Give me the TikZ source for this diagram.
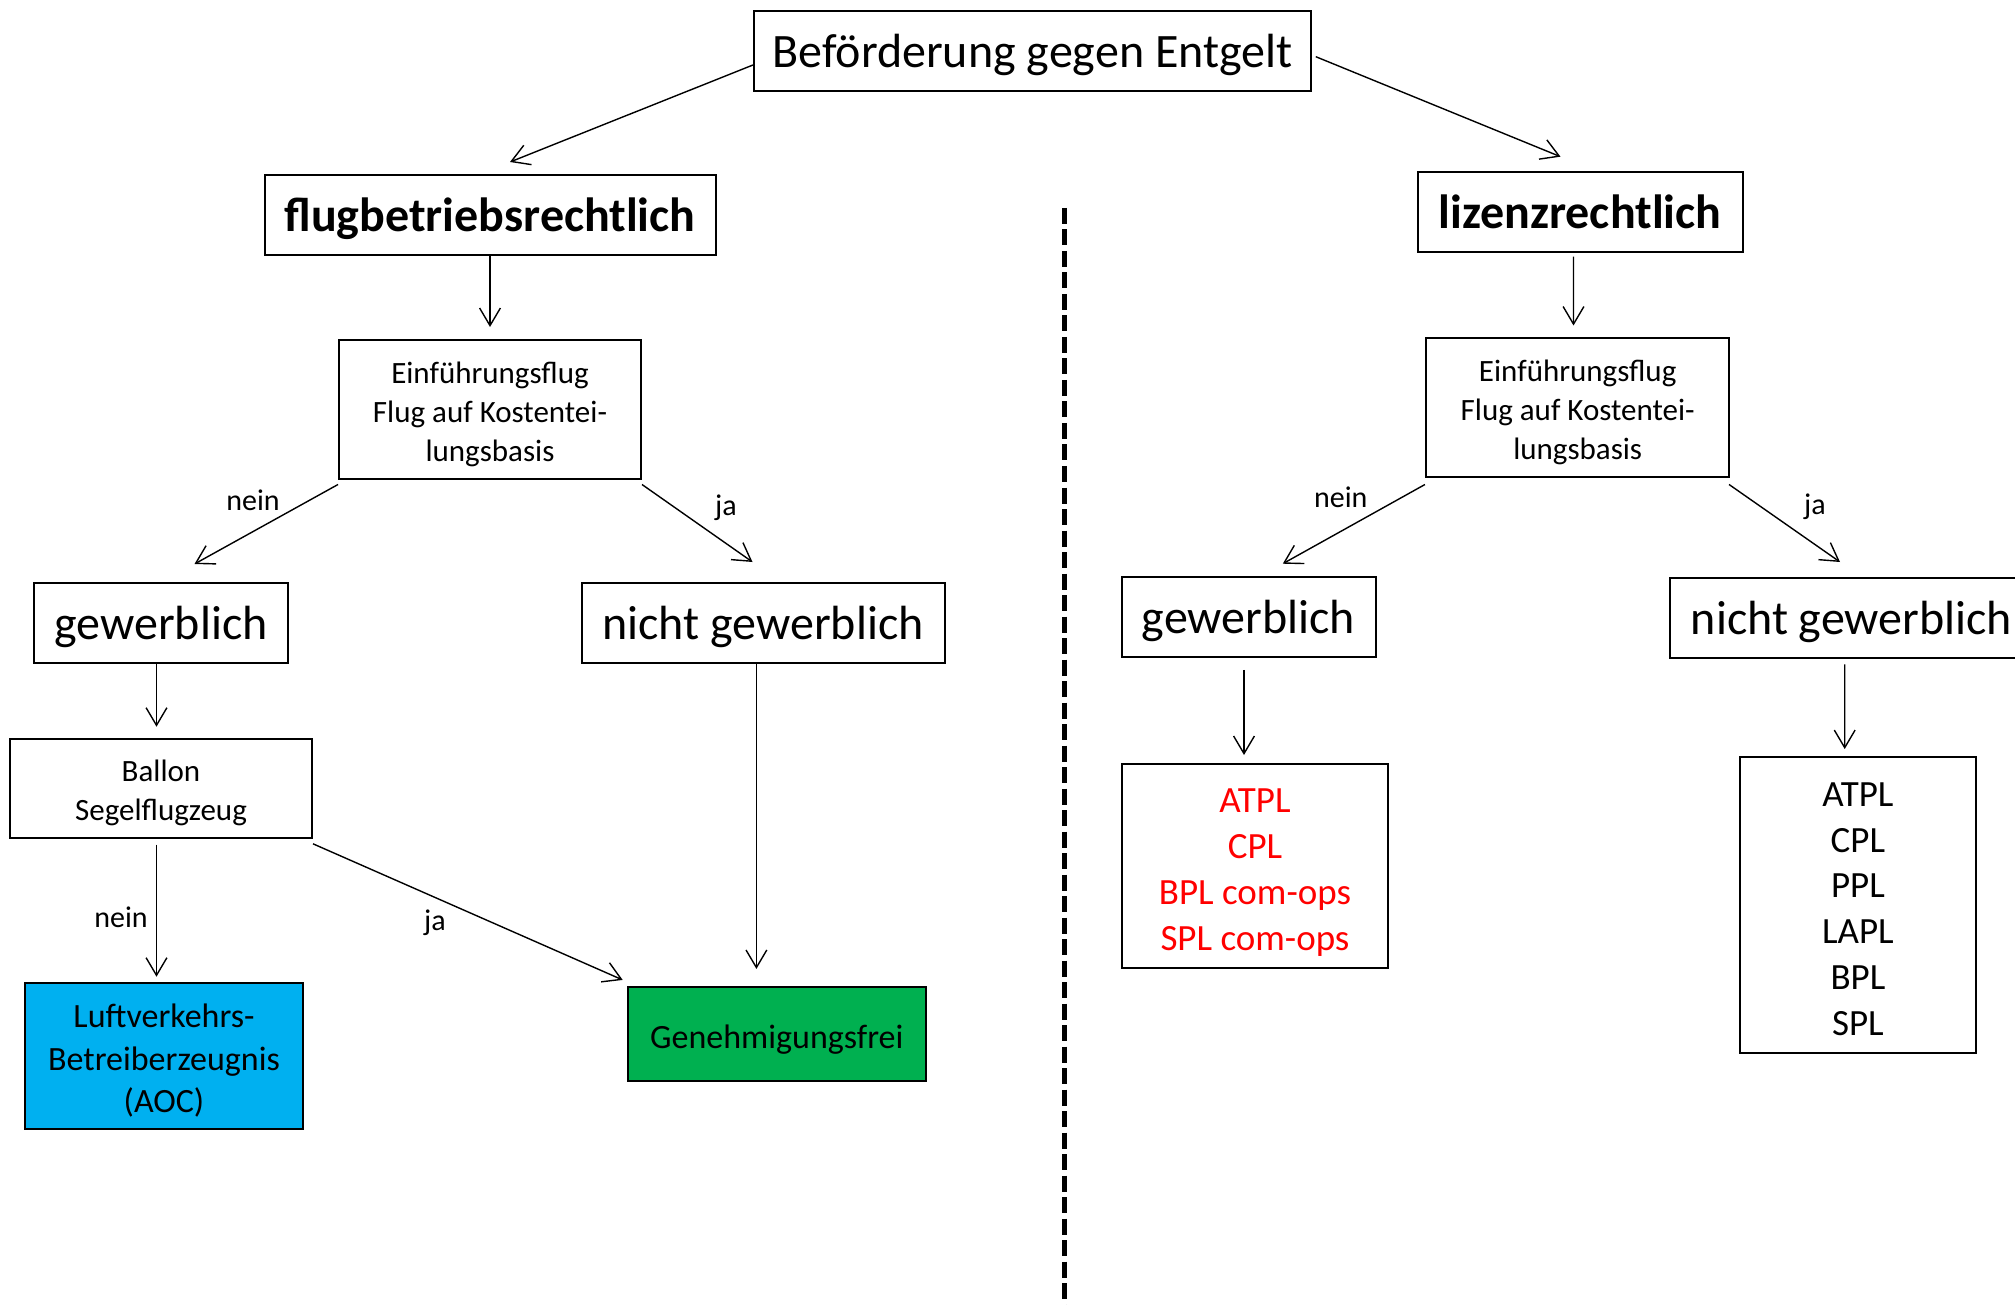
\documentclass[tikz,border=0pt]{standalone}
\usepackage{fontspec}
\setmainfont{Carlito}
\usetikzlibrary{arrows.meta}
\definecolor{aocblue}{RGB}{0,176,240}
\definecolor{freigreen}{RGB}{0,176,80}
\definecolor{lizred}{RGB}{255,0,0}
\newcommand\boxgap[1][1em]{\rule{0pt}{#1}}
\tikzset{
  box/.style={draw,line width=1pt,inner sep=0pt,align=center},
  bigbox/.style={box,font=\fontsize{24}{28}\selectfont,text depth=0pt,minimum height=40pt},
  smallbox/.style={box,font=\fontsize{15.5}{19.5}\selectfont},
  listbox/.style={box,font=\fontsize{18.5}{22.9}\selectfont},
  colbox/.style={box,font=\fontsize{17}{21.2}\selectfont},
  lbl/.style={font=\fontsize{15}{18}\selectfont,inner sep=0pt},
  arr/.style={-{Straight Barb[length=8.8pt,width=10.4pt]},line width=0.7pt}
}
\begin{document}
\begin{tikzpicture}[x=0.5pt,y=-0.5pt]
        \useasboundingbox (0,0) rectangle (2015,1305);
        \clip (0,0) rectangle (2015,1305);
        %% top
        \node[bigbox,minimum width=278.5pt] (befoerderung) at (1032.5,51) {Beförderung gegen Entgelt};
        %% two sides
        \node[bigbox,minimum width=225.5pt,font=\fontsize{24}{28}\selectfont\bfseries] (flug) at (490,215) {flugbetriebsrechtlich};
        \node[bigbox,minimum width=162.5pt,font=\fontsize{24}{28}\selectfont\bfseries] (lizenz) at (1580,211.7) {lizenzrechtlich};
        \draw[arr] ([yshift=-7pt]befoerderung.west) -- ([xshift=10pt,yshift=6pt]flug.north);
        \draw[arr] ([xshift=1.9pt,yshift=-2.85pt]befoerderung.east) -- ([xshift=-9.75pt,yshift=7pt]lizenz.north);
        %% dividing line
        \draw[line width=2.5pt,dash pattern=on 8pt off 2.75pt] (1064,208) -- (1064,1305);
        %% Einfuehrungsflug boxes
        \node[smallbox,minimum width=151pt,minimum height=69.5pt] (einfL) at (490,409.5) {\boxgap Einführungsflug\\Flug auf Kostentei-\\lungsbasis};
        \node[smallbox,minimum width=151.75pt,minimum height=69pt] (einfR) at (1577.7,407.5) {\boxgap Einführungsflug\\Flug auf Kostentei-\\lungsbasis};
        \draw[arr] (flug.south) -- ([yshift=6pt]einfL.north);
        \draw[arr] ([xshift=-3.25pt,yshift=-2pt]lizenz.south) -- ([xshift=-2.1pt,yshift=6pt]einfR.north);
        %% gewerblich / nicht gewerblich
        \node[bigbox,minimum width=127pt] (gewL) at (161,622.5) {gewerblich};
        \node[bigbox,minimum width=181.5pt] (nichtL) at (763,622.5) {nicht gewerblich};
        \node[bigbox,minimum width=127pt] (gewR) at (1248.5,617) {gewerblich};
        \node[bigbox,minimum width=181.5pt] (nichtR) at (1851.5,617.6) {nicht gewerblich};
        \draw[arr] ([yshift=-2.25pt]einfL.south west) -- ([xshift=16.75pt,yshift=8.75pt]gewL.north);
        \draw[arr] ([yshift=-2.25pt]einfL.south east) -- ([xshift=-5.25pt,yshift=9.75pt]nichtL.north);
        \draw[arr] ([yshift=-3.5pt]einfR.south west) -- ([xshift=17.15pt,yshift=6.15pt]gewR.north);
        \draw[arr] ([xshift=-0.7pt,yshift=-3.5pt]einfR.south east) -- ([xshift=-5.75pt,yshift=7.3pt]nichtR.north);
        \node[lbl] (neinL) at (253,500) {nein};
        \node[lbl] (jaL) at (726,508) {ja};
        \node[lbl] (neinR) at (1340.8,497) {nein};
        \node[lbl] (jaR) at (1815,507) {ja};
        %% left side, lower part
        \node[smallbox,minimum width=151pt,minimum height=49.5pt] (ballon) at (161,788.4) {\boxgap Ballon\\Segelflugzeug};
        \node[colbox,fill=aocblue,minimum width=138.75pt,minimum height=73pt] (aoc) at (164,1055.6) {\boxgap Luftverkehrs-\\Betreiberzeugnis\\(AOC)};
        \node[colbox,fill=freigreen,minimum width=149.2pt,minimum height=47.35pt] (frei) at (776.8,1034) {\boxgap Genehmigungsfrei};
        \draw[arr] ([xshift=-2.25pt]gewL.south) -- ([xshift=-2.25pt,yshift=5.6pt]ballon.north);
        \draw[arr] ([xshift=-2.25pt,yshift=-2.9pt]ballon.south) -- ([xshift=-3.75pt,yshift=2.45pt]aoc.north);
        \draw[arr] ([yshift=-2.45pt]ballon.south east) -- ([xshift=-1.95pt,yshift=2.85pt]frei.north west);
        \draw[arr] ([xshift=-3.3pt]nichtL.south) -- ([xshift=-10.2pt,yshift=8.35pt]frei.north);
        \node[lbl] (nein2) at (121,917.6) {nein};
        \node[lbl] (ja2) at (435,923) {ja};
        %% licences
        \node[listbox,text=lizred,minimum width=133.3pt,minimum height=102pt] (rotlist) at (1255,865.8) {\boxgap ATPL\\CPL\\BPL com-ops\\SPL com-ops};
        \node[listbox,minimum width=118.1pt,minimum height=147.85pt] (schwarzlist) at (1857.9,904.9) {\boxgap[0.87em]ATPL\\CPL\\PPL\\LAPL\\BPL\\SPL};
        \draw[arr] ([xshift=-2.25pt,yshift=-5.9pt]gewR.south) -- ([xshift=-5.5pt,yshift=3.9pt]rotlist.north);
        \draw[arr] ([xshift=-3.4pt,yshift=-2.9pt]nichtR.south) -- ([xshift=-6.6pt,yshift=3.5pt]schwarzlist.north);
    \end{tikzpicture}
\end{document}
